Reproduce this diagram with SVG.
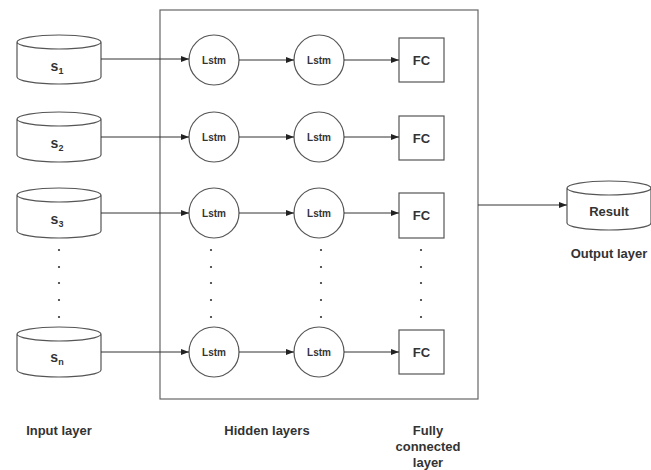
<svg xmlns="http://www.w3.org/2000/svg" width="651" height="470" viewBox="0 0 651 470">
<defs>
<style>
text{font-family:"Liberation Sans",Arial,sans-serif;font-weight:bold;fill:#333;text-anchor:middle}
.shape{fill:#fff;stroke:#555;stroke-width:1.2}
.conn{stroke:#333;stroke-width:1;fill:none;marker-end:url(#arr)}
.lbl{font-size:13px}
.lstm{font-size:10px}
.fc{font-size:13px}
.s{font-size:14px}
.dot{fill:#333}
</style>
<marker id="arr" markerWidth="8" markerHeight="6" refX="8" refY="3" orient="auto" markerUnits="userSpaceOnUse">
<path d="M0,0 L8,3 L0,6 z" fill="#222"/>
</marker>
</defs>
<rect width="651" height="470" fill="#fff"/>
<g id="hidden-box"><rect x="160" y="10" width="318" height="389" fill="none" stroke="#666" stroke-width="1.2"/></g>

<g id="s1"><path class="shape" d="M17,42 a42,7 0 0 1 84,0 v35 a42,7 0 0 1 -84,0 z M17,42 a42,7 0 0 0 84,0"/><text class="s" x="57" y="71">s<tspan font-size="9" dy="3">1</tspan></text></g>
<g id="s2"><path class="shape" d="M17,119 a42,7 0 0 1 84,0 v36 a42,7 0 0 1 -84,0 z M17,119 a42,7 0 0 0 84,0"/><text class="s" x="57" y="148">s<tspan font-size="9" dy="3">2</tspan></text></g>
<g id="s3"><path class="shape" d="M17,195 a42,7 0 0 1 84,0 v36 a42,7 0 0 1 -84,0 z M17,195 a42,7 0 0 0 84,0"/><text class="s" x="57" y="224">s<tspan font-size="9" dy="3">3</tspan></text></g>
<g id="sn"><path class="shape" d="M17,334 a42,7 0 0 1 84,0 v36 a42,7 0 0 1 -84,0 z M17,334 a42,7 0 0 0 84,0"/><text class="s" x="57" y="362">s<tspan font-size="9" dy="3">n</tspan></text></g>

<g id="lstm1-1"><circle class="shape" cx="214" cy="60" r="25"/><text class="lstm" x="214" y="64">Lstm</text></g>
<g id="lstm1-2"><circle class="shape" cx="319" cy="60" r="25"/><text class="lstm" x="319" y="64">Lstm</text></g>
<g id="fc1"><rect class="shape" x="399" y="38" width="45" height="44"/><text class="fc" x="421.5" y="65">FC</text></g>

<g id="lstm2-1"><circle class="shape" cx="214" cy="137" r="25"/><text class="lstm" x="214" y="141">Lstm</text></g>
<g id="lstm2-2"><circle class="shape" cx="319" cy="137" r="25"/><text class="lstm" x="319" y="141">Lstm</text></g>
<g id="fc2"><rect class="shape" x="399" y="116" width="45" height="44"/><text class="fc" x="421.5" y="143">FC</text></g>

<g id="lstm3-1"><circle class="shape" cx="214" cy="213" r="25"/><text class="lstm" x="214" y="217">Lstm</text></g>
<g id="lstm3-2"><circle class="shape" cx="319" cy="213" r="25"/><text class="lstm" x="319" y="217">Lstm</text></g>
<g id="fc3"><rect class="shape" x="399" y="193" width="45" height="45"/><text class="fc" x="421.5" y="220">FC</text></g>

<g id="lstmn-1"><circle class="shape" cx="214" cy="352" r="25"/><text class="lstm" x="214" y="356">Lstm</text></g>
<g id="lstmn-2"><circle class="shape" cx="319" cy="352" r="25"/><text class="lstm" x="319" y="356">Lstm</text></g>
<g id="fcn"><rect class="shape" x="399" y="330" width="45" height="44"/><text class="fc" x="421.5" y="357">FC</text></g>

<g id="result"><path class="shape" d="M567,188 a42,7 0 0 1 84,0 v35 a42,7 0 0 1 -84,0 z M567,188 a42,7 0 0 0 84,0"/><text class="lbl" x="609" y="216">Result</text></g>

<g id="dots">
<g class="dot">
<circle cx="59" cy="250" r="1.1"/><circle cx="59" cy="267" r="1.1"/><circle cx="59" cy="283" r="1.1"/><circle cx="59" cy="300" r="1.1"/><circle cx="59" cy="317" r="1.1"/>
<circle cx="211" cy="250" r="1.1"/><circle cx="211" cy="267" r="1.1"/><circle cx="211" cy="283" r="1.1"/><circle cx="211" cy="300" r="1.1"/><circle cx="211" cy="317" r="1.1"/>
<circle cx="321" cy="250" r="1.1"/><circle cx="321" cy="267" r="1.1"/><circle cx="321" cy="283" r="1.1"/><circle cx="321" cy="300" r="1.1"/><circle cx="321" cy="317" r="1.1"/>
<circle cx="421" cy="250" r="1.1"/><circle cx="421" cy="267" r="1.1"/><circle cx="421" cy="283" r="1.1"/><circle cx="421" cy="300" r="1.1"/><circle cx="421" cy="317" r="1.1"/>
</g>
</g>

<g id="connectors">
<line class="conn" x1="101" y1="59" x2="189" y2="59"/>
<line class="conn" x1="239" y1="60" x2="294" y2="60"/>
<line class="conn" x1="344" y1="60" x2="399" y2="60"/>
<line class="conn" x1="101" y1="137" x2="189" y2="137"/>
<line class="conn" x1="239" y1="137" x2="294" y2="137"/>
<line class="conn" x1="344" y1="137" x2="399" y2="137"/>
<line class="conn" x1="101" y1="213" x2="189" y2="213"/>
<line class="conn" x1="239" y1="213" x2="294" y2="213"/>
<line class="conn" x1="344" y1="213" x2="399" y2="213"/>
<line class="conn" x1="101" y1="352" x2="189" y2="352"/>
<line class="conn" x1="239" y1="352" x2="294" y2="352"/>
<line class="conn" x1="344" y1="352" x2="399" y2="352"/>
<line class="conn" x1="478" y1="205" x2="567" y2="205"/>
</g>

<g id="labels">
<text class="lbl" x="609" y="258">Output layer</text>
<text class="lbl" x="59" y="435">Input layer</text>
<text class="lbl" x="267" y="435">Hidden layers</text>
<text class="lbl" x="428" y="435">Fully</text>
<text class="lbl" x="428" y="451">connected</text>
<text class="lbl" x="428" y="467">layer</text>
</g>
</svg>
